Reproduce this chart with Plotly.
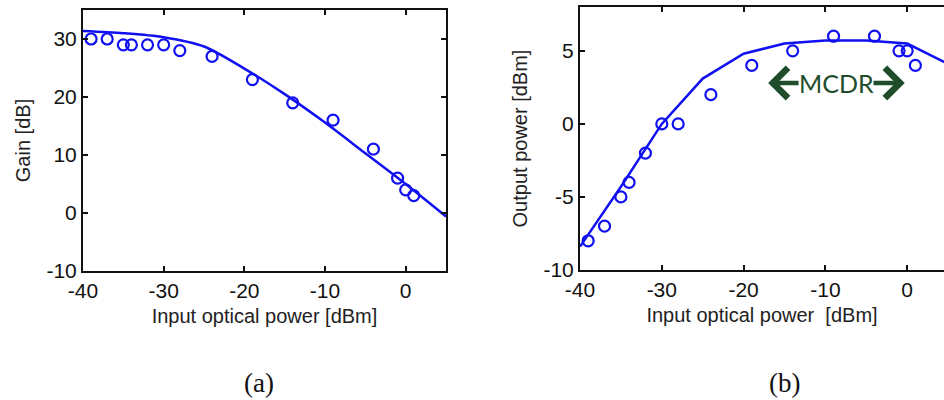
import plotly.graph_objects as go

# ---- data ----
meas_input = [-39, -37, -35, -34, -32, -30, -28, -24, -19, -14, -9, -4, -1, 0, 1]
meas_gain = [30, 30, 29, 29, 29, 29, 28, 27, 23, 19, 16, 11, 6, 4, 3]
meas_output = [-8, -7, -5, -4, -2, 0, 0, 2, 4, 5, 6, 6, 5, 5, 4]

sim_input = [-40, -35, -30, -25, -20, -15, -10, -5, 0, 5]
sim_gain = [31.4, 31.0, 30.3, 28.7, 24.9, 20.5, 15.6, 10.3, 5.0, -0.6]
sim_output = [-8.4, -4.3, 0.0, 3.1, 4.8, 5.5, 5.7, 5.7, 5.5, 4.1]

x_ticks = [-40, -30, -20, -10, 0]
x_tick_labels = ["-40", "-30", "-20", "-10", "0"]
gain_ticks = [-10, 0, 10, 20, 30]
gain_tick_labels = ["-10", "0", "10", "20", "30"]
out_ticks = [-10, -5, 0, 5]
out_tick_labels = ["-10", "-5", "0", "5"]

BLUE = "#1010f0"
GREEN = "#1f4d2b"
FONT = "Liberation Sans, Arial, Helvetica, sans-serif"
W, H = 944, 400

fig = go.Figure()

fig.add_trace(go.Scatter(x=sim_input, y=sim_gain, mode="lines",
                         line=dict(color=BLUE, width=2.5, shape="spline", smoothing=0.8),
                         xaxis="x", yaxis="y", showlegend=False))
fig.add_trace(go.Scatter(x=meas_input, y=meas_gain, mode="markers",
                         marker=dict(symbol="circle-open", size=11, color=BLUE,
                                     line=dict(width=2.2, color=BLUE)),
                         xaxis="x", yaxis="y", showlegend=False))
fig.add_trace(go.Scatter(x=sim_input, y=sim_output, mode="lines",
                         line=dict(color=BLUE, width=2.5), xaxis="x2", yaxis="y2",
                         showlegend=False))
fig.add_trace(go.Scatter(x=meas_input, y=meas_output, mode="markers",
                         marker=dict(symbol="circle-open", size=11, color=BLUE,
                                     line=dict(width=2.2, color=BLUE)),
                         xaxis="x2", yaxis="y2", showlegend=False))

axis_common = dict(showgrid=False, zeroline=False, showline=True, linecolor="#111",
                   linewidth=2, ticks="inside", ticklen=5, tickwidth=2,
                   tickcolor="#111", automargin=False,
                   tickfont=dict(family=FONT, size=21, color="#111"),
                   title_font=dict(family=FONT, size=20, color="#222"))

fig.update_layout(
    template="none",
    width=W, height=H,
    margin=dict(l=0, r=0, t=0, b=0),
    paper_bgcolor="white", plot_bgcolor="white",
    xaxis=dict(axis_common, domain=[83 / W, 446 / W], range=[-40, 5],
               tickvals=x_ticks, ticktext=x_tick_labels, mirror="ticks", anchor="y",
               title=dict(text="Input optical power [dBm]", standoff=8)),
    yaxis=dict(axis_common, domain=[(H - 271) / H, (H - 10) / H], range=[-10, 35],
               tickvals=gain_ticks, ticktext=gain_tick_labels, mirror="ticks", anchor="x",
               title=dict(text="Gain [dB]", standoff=10)),
    xaxis2=dict(axis_common, domain=[580 / W, 1.0], range=[-40, 4.5],
                tickvals=x_ticks, ticktext=x_tick_labels, mirror="ticks", anchor="y2",
                title=dict(text="Input optical power\u00a0 [dBm]", standoff=8)),
    yaxis2=dict(axis_common, domain=[(H - 270) / H, (H - 7) / H], range=[-10, 8],
                tickvals=out_ticks, ticktext=out_tick_labels, mirror=False, anchor="x2",
                title=dict(text="Output power [dBm]", standoff=10)),
)

# MCDR annotation with arrows
fig.add_annotation(x=-8.65, y=2.8, xref="x2", yref="y2", text="MCDR",
                   showarrow=False, font=dict(family="Lato, sans-serif", size=25, color=GREEN))
fig.add_annotation(x=-17.0, y=2.8, ax=-13.1, ay=2.8, xref="x2", yref="y2",
                   axref="x2", ayref="y2", text="", showarrow=True,
                   arrowhead=4, arrowwidth=4.5, arrowsize=1.3, arrowcolor=GREEN)
fig.add_annotation(x=-0.3, y=2.8, ax=-4.3, ay=2.8, xref="x2", yref="y2",
                   axref="x2", ayref="y2", text="", showarrow=True,
                   arrowhead=4, arrowwidth=4.5, arrowsize=1.3, arrowcolor=GREEN)

# panel labels
fig.add_annotation(x=242 / W, y=0.0, xref="paper", yref="paper",
                   yanchor="bottom", text="(a)", showarrow=False,
                   font=dict(family="Liberation Serif, Times New Roman, serif", size=27, color="#111"))
fig.add_annotation(x=802 / W, y=0.0, xref="paper", yref="paper",
                   yanchor="bottom", text="(b)", showarrow=False,
                   font=dict(family="Liberation Serif, Times New Roman, serif", size=27, color="#111"))

fig.write_html("out.html")
